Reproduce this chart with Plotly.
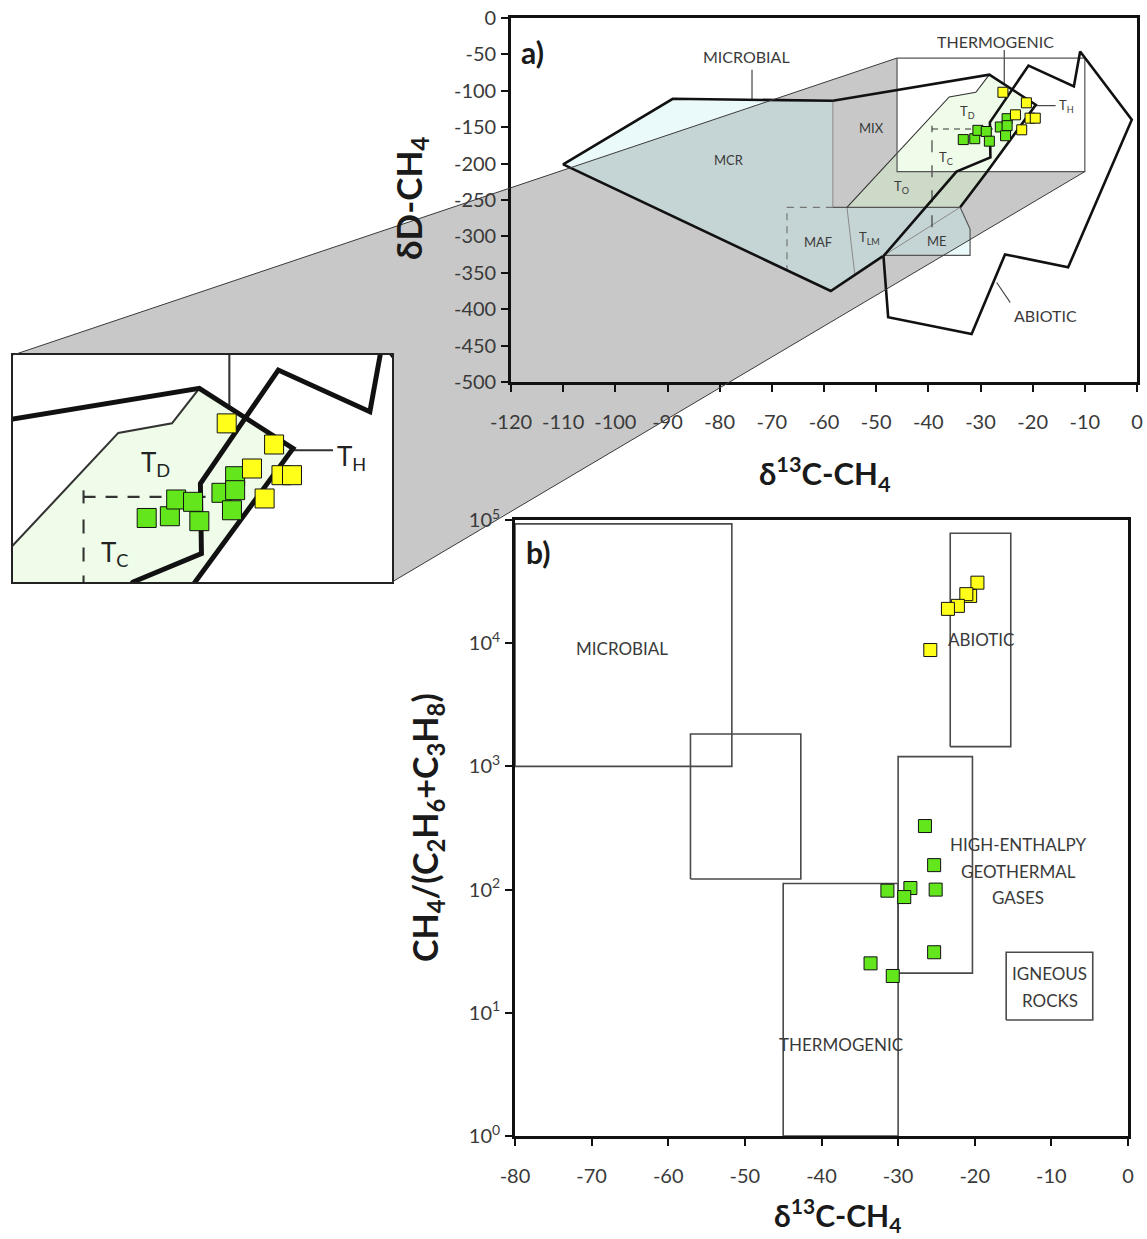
import math
import plotly.graph_objects as go

W, H = 1147, 1239

# ---------------- data ----------------
# Panel a samples: δ13C-CH4 vs δD-CH4
green_d13C_a = [-33.3, -31.1, -30.5, -28.9, -28.3, -26.2, -24.9, -24.9, -25.2]
green_dD_a = [-167.0, -165.8, -154.3, -155.9, -169.2, -149.7, -138.3, -147.9, -161.7]
yellow_d13C_a = [-25.7, -21.2, -23.3, -20.5, -19.5, -22.1]
yellow_dD_a = [-102.0, -116.5, -133.0, -137.6, -137.6, -153.6]

# Panel b samples: δ13C-CH4 vs CH4/(C2H6+C3H8)
green_d13C_b = [-26.5, -25.3, -25.1, -28.4, -29.2, -31.4, -25.3, -33.6, -30.7]
green_ratio_b = [328, 158, 100, 103, 87, 98, 31, 25.2, 19.9]
yellow_d13C_b = [-19.65, -20.6, -21.1, -22.2, -23.5, -25.8]
yellow_ratio_b = [31000, 24200, 25000, 20100, 19000, 8800]

# Panel a genetic fields (δ13C, δD vertices)
microbial_fill_x = [-110, -89, -58.3, -58.3, -33.9, -32, -32, -48.7, -58.7, -110]
microbial_fill_y = [-201, -111, -113.7, -260, -260, -290, -326, -326, -375, -201]
microbial_edge_x = [-58.3, -89, -110, -58.7, -48.7]
microbial_edge_y = [-113.7, -111, -201, -375, -327]
thermo_fill_x = [-55.6, -46, -36, -30.9, -28.3, -19.4, -28.7, -33.9, -55.6]
thermo_fill_y = [-260, -185.8, -108.5, -102, -77.9, -119.2, -211, -260, -260]
thermo_left_x = [-55.6, -46, -36, -30.9, -28.3]
thermo_left_y = [-260, -185.8, -108.5, -102, -77.9]
thermo_edge_x = [-58.3, -28.3, -19.4, -28.7, -33.9]
thermo_edge_y = [-113.7, -77.9, -119.2, -211, -260]
abiotic_x = [-48.6, -34.6, -28.1, -28.2, -20.8, -12.1, -10.9, -1.0, -13.2, -25.3, -31.7, -47.7, -48.6]
abiotic_y = [-327, -211, -191.5, -143.3, -65.3, -94, -46, -139.7, -342.5, -324.7, -434, -411, -327]
me_box_x = [-58.3, -33.9, -32, -32, -48.7]
me_box_y = [-260, -260, -290, -326, -326]
mix_line_x = [-58.3, -58.3]
mix_line_y = [-113.7, -260]
maf_div_x = [-55.6, -54.1]
maf_div_y = [-260, -352]
me_diag_x = [-48.7, -33.9]
me_diag_y = [-327, -260]
maf_dash_x = [-58.3, -67.1, -67.1]
maf_dash_y = [-260, -260, -346]
tc_hdash_x = [-39.3, -27.0]
tc_hdash_y = [-152.5, -152.5]
tc_tick_x = [-39.3, -39.3]
tc_tick_y = [-148, -157]
tc_vdash_x = [-39.3, -39.3]
tc_vdash_y = [-168, -290]
lead_microbial_x = [-73.8, -73.8]
lead_microbial_y = [-113.7, -71]
lead_thermo_x = [-25.45, -25.45]
lead_thermo_y = [-44, -91.5]
lead_th_x = [-19.4, -15.6]
lead_th_y = [-120.4, -120.4]
lead_abiotic_x = [-26.9, -24.3]
lead_abiotic_y = [-363.4, -390.8]
zoom_x = [-46, -10]
zoom_y = [-211, -55]

labels_a = [
    ("MICROBIAL", -74.8, -53.4, 16), ("THERMOGENIC", -27.2, -32.5, 16),
    ("MCR", -78.2, -194.5, 13), ("MIX", -50.9, -151, 13),
    ("T<sub>D</sub>", -32.4, -128.8, 13), ("T<sub>C</sub>", -36.6, -191.8, 13),
    ("T<sub>O</sub>", -45.1, -232, 13), ("MAF", -61.2, -308, 13),
    ("T<sub>LM</sub>", -51.2, -301.8, 13), ("ME", -38.4, -306.4, 13),
    ("T<sub>H</sub>", -13.6, -120.4, 13), ("ABIOTIC", -17.6, -409, 16),
]
labels_inset = [
    ("T<sub>D</sub>", -32.5, -129.6, 26), ("T<sub>C</sub>", -36.3, -191.5, 26),
    ("T<sub>H</sub>", -13.8, -125.4, 26),
]

# Panel b fields (δ13C range, ratio range)
box_microbial_x = [-80, -51.7]
box_microbial_y = [1000, 93000]
box_mixed_x = [-57.1, -42.7]
box_mixed_y = [122, 1833]
box_thermo_x = [-45.0, -30.0]
box_thermo_y = [1, 112]
box_geo_x = [-30.0, -20.3]
box_geo_y = [21, 1200]
box_abiotic_x = [-23.2, -15.3]
box_abiotic_y = [1446, 78000]
box_igneous_x = [-15.9, -4.6]
box_igneous_y = [8.75, 31]

labels_b = [
    ("MICROBIAL", -66.0, 9140), ("ABIOTIC", -19.2, 10770),
    ("HIGH-ENTHALPY", -14.3, 233), ("GEOTHERMAL", -14.3, 140), ("GASES", -14.3, 86),
    ("IGNEOUS", -10.2, 20.7), ("ROCKS", -10.2, 12.7), ("THERMOGENIC", -37.4, 5.48),
]

ticks_a_x = list(range(-120, 1, 10))
ticks_a_y = list(range(-500, 1, 50))
ticks_b_x = list(range(-80, 1, 10))
ticks_b_y = [1, 10, 100, 1000, 10000, 100000]
ticks_b_y_text = ["10<sup>0</sup>", "10<sup>1</sup>", "10<sup>2</sup>", "10<sup>3</sup>",
                  "10<sup>4</sup>", "10<sup>5</sup>"]

# ---------------- layout geometry ----------------
X_DOM_A = [511 / W, 1137 / W]
Y_DOM_A = [1 - 382 / H, 1 - 18 / H]
X_DOM_I = [13 / W, 392 / W]
Y_DOM_I = [1 - 582 / H, 1 - 355 / H]
X_DOM_B = [515 / W, 1128 / W]
Y_DOM_B = [1 - 1136 / H, 1 - 520 / H]
XR_A = [-120, 0]
YR_A = [-500, 0]

FONT = "Lato, 'Open Sans', sans-serif"
TXT = "#3a3a3a"
GREEN = "#63e61c"
YELLOW = "#ffff1a"

fig = go.Figure()
AX = {"a": ("x", "y"), "i": ("x2", "y2"), "b": ("x3", "y3")}
SCALE = {"a": 1.0, "i": 1.9}


def add_fill(xs, ys, color, panels=("a", "i")):
    for p in panels:
        xa, ya = AX[p]
        fig.add_trace(go.Scatter(x=xs, y=ys, xaxis=xa, yaxis=ya, mode="lines", fill="toself",
                                 fillcolor=color, line=dict(width=0), hoverinfo="skip",
                                 showlegend=False))


def add_line(xs, ys, width, color, dash=None, panels=("a", "i")):
    for p in panels:
        xa, ya = AX[p]
        d = None
        if dash is not None:
            d = dash[p] if isinstance(dash, dict) else dash
        fig.add_trace(go.Scatter(x=xs, y=ys, xaxis=xa, yaxis=ya, mode="lines",
                                 line=dict(color=color, width=width * SCALE.get(p, 1.0), dash=d),
                                 hoverinfo="skip", showlegend=False))


# fills
add_fill(microbial_fill_x, microbial_fill_y, "rgba(190,238,238,0.33)")
add_fill(thermo_fill_x, thermo_fill_y, "rgba(212,246,198,0.38)")

# thin lines
add_line(mix_line_x, mix_line_y, 1, "#8a8a8a")
add_line(maf_div_x, maf_div_y, 1, "#8a8a8a")
add_line(me_diag_x, me_diag_y, 1, "#8a8a8a")
add_line(me_box_x, me_box_y, 1.2, "#555555")
add_line(thermo_left_x, thermo_left_y, 1.1, "#333333")
add_line(maf_dash_x, maf_dash_y, 1.2, "#777777", dash={"a": "7px,6px", "i": "12px,10px"})
add_line(tc_hdash_x, tc_hdash_y, 1.1, "#333333", dash={"a": "6px,5px", "i": "12px,10px"})
add_line(tc_tick_x, tc_tick_y, 1.1, "#333333")
add_line(tc_vdash_x, tc_vdash_y, 1.1, "#333333", dash={"a": "12px,13px", "i": "14px,14px"})
add_line(lead_microbial_x, lead_microbial_y, 1.1, "#333333")
add_line(lead_thermo_x, lead_thermo_y, 1.1, "#333333")
add_line(lead_th_x, lead_th_y, 1.1, "#333333")
add_line(lead_abiotic_x, lead_abiotic_y, 1.1, "#333333")
# zoom window outline in panel a
add_line([zoom_x[0], zoom_x[1], zoom_x[1], zoom_x[0], zoom_x[0]],
         [zoom_y[1], zoom_y[1], zoom_y[0], zoom_y[0], zoom_y[1]], 1.2, "#555555", panels=("a",))

# thick outlines
add_line(microbial_edge_x, microbial_edge_y, 2.6, "#111111")
add_line(thermo_edge_x, thermo_edge_y, 2.6, "#111111")
add_line(abiotic_x, abiotic_y, 2.6, "#111111")

# samples panel a + inset
for p, size in (("a", 10), ("i", 19)):
    xa, ya = AX[p]
    fig.add_trace(go.Scatter(x=green_d13C_a, y=green_dD_a, xaxis=xa, yaxis=ya, mode="markers",
                             marker=dict(symbol="square", size=size, color=GREEN,
                                         line=dict(color="#111111", width=1)),
                             showlegend=False, hoverinfo="skip"))
    fig.add_trace(go.Scatter(x=yellow_d13C_a, y=yellow_dD_a, xaxis=xa, yaxis=ya, mode="markers",
                             marker=dict(symbol="square", size=size, color=YELLOW,
                                         line=dict(color="#111111", width=1)),
                             showlegend=False, hoverinfo="skip"))

# panel b boxes
for bx, by in ((box_microbial_x, box_microbial_y), (box_mixed_x, box_mixed_y),
               (box_thermo_x, box_thermo_y), (box_geo_x, box_geo_y),
               (box_abiotic_x, box_abiotic_y), (box_igneous_x, box_igneous_y)):
    fig.add_trace(go.Scatter(x=[bx[0], bx[1], bx[1], bx[0], bx[0]],
                             y=[by[0], by[0], by[1], by[1], by[0]],
                             xaxis="x3", yaxis="y3", mode="lines",
                             line=dict(color="#4a4a4a", width=1.6),
                             showlegend=False, hoverinfo="skip"))

fig.add_trace(go.Scatter(x=green_d13C_b, y=green_ratio_b, xaxis="x3", yaxis="y3", mode="markers",
                         marker=dict(symbol="square", size=13, color=GREEN,
                                     line=dict(color="#111111", width=1)),
                         showlegend=False, hoverinfo="skip"))
fig.add_trace(go.Scatter(x=yellow_d13C_b, y=yellow_ratio_b, xaxis="x3", yaxis="y3", mode="markers",
                         marker=dict(symbol="square", size=13, color=YELLOW,
                                     line=dict(color="#111111", width=1)),
                         showlegend=False, hoverinfo="skip"))


# ---------------- projection (zoom connector) ----------------
def a2paper(x, y):
    xp = X_DOM_A[0] + (x - XR_A[0]) / (XR_A[1] - XR_A[0]) * (X_DOM_A[1] - X_DOM_A[0])
    yp = Y_DOM_A[0] + (y - YR_A[0]) / (YR_A[1] - YR_A[0]) * (Y_DOM_A[1] - Y_DOM_A[0])
    return xp, yp


bTL = a2paper(zoom_x[0], zoom_y[1])
bBL = a2paper(zoom_x[0], zoom_y[0])
bBR = a2paper(zoom_x[1], zoom_y[0])
iTL = (X_DOM_I[0], Y_DOM_I[1])
iTR = (X_DOM_I[1], Y_DOM_I[1])
iBR = (X_DOM_I[1], Y_DOM_I[0])
pts = [iTL, bTL, bBL, bBR, iBR, iTR]
path = "M " + " L ".join(f"{p[0]:.5f},{p[1]:.5f}" for p in pts) + " Z"
shapes = [
    dict(type="path", path=path, xref="paper", yref="paper", layer="below",
         fillcolor="rgb(200,200,200)", line=dict(width=0)),
    dict(type="line", xref="paper", yref="paper", x0=iTL[0], y0=iTL[1], x1=bTL[0], y1=bTL[1],
         line=dict(color="#3a3a3a", width=1), layer="above"),
    dict(type="line", xref="paper", yref="paper", x0=bBR[0], y0=bBR[1], x1=iBR[0], y1=iBR[1],
         line=dict(color="#3a3a3a", width=1), layer="above"),
]

# ---------------- annotations ----------------
ann = []
for t, x, y, s in labels_a:
    ann.append(dict(text=t, x=x, y=y, xref="x", yref="y", showarrow=False,
                    xanchor="center", yanchor="middle",
                    font=dict(family=FONT, size=s, color=TXT)))
for t, x, y, s in labels_inset:
    ann.append(dict(text=t, x=x, y=y, xref="x2", yref="y2", showarrow=False,
                    xanchor="center", yanchor="middle",
                    font=dict(family=FONT, size=s, color="#222222")))
for t, x, y in labels_b:
    ann.append(dict(text=t, x=x, y=math.log10(y), xref="x3", yref="y3",
                    xanchor="center", yanchor="middle",
                    showarrow=False, font=dict(family=FONT, size=17, color=TXT)))


def paper_text(text, px, py, size, angle=0, color="#1a1a1a"):
    return dict(text=text, x=px / W, y=1 - py / H, xref="paper", yref="paper",
                showarrow=False, xanchor="center", yanchor="middle", textangle=angle,
                font=dict(family=FONT, size=size, color=color))


ann += [
    paper_text("<b>a)</b>", 532, 52, 30),
    paper_text("<b>b)</b>", 538, 552, 30),
    paper_text("<b>δ<sup>13</sup>C-CH<sub>4</sub></b>", 825, 474, 31),
    paper_text("<b>δD-CH<sub>4</sub></b>", 410, 198, 35, angle=-90),
    paper_text("<b>δ<sup>13</sup>C-CH<sub>4</sub></b>", 837, 1215, 30),
    paper_text("<b>CH<sub>4</sub>/(C<sub>2</sub>H<sub>6</sub>+C<sub>3</sub>H<sub>8</sub>)</b>",
               427, 828, 34, angle=-90),
]

axis_common = dict(showline=True, mirror=True, linecolor="#111111", linewidth=2.6,
                   showgrid=False, zeroline=False, ticks="outside", ticklen=7, tickwidth=2,
                   tickcolor="#111111", automargin=False,
                   tickfont=dict(family=FONT, size=20, color=TXT))
inset_axis = dict(showline=True, mirror=True, linecolor="#222222", linewidth=2.2,
                  showgrid=False, zeroline=False, showticklabels=False, ticks="",
                  automargin=False)

fig.update_layout(
    template="none",
    width=W, height=H, autosize=False,
    margin=dict(l=0, r=0, t=0, b=0, pad=0),
    paper_bgcolor="white", plot_bgcolor="rgba(0,0,0,0)",
    showlegend=False,
    xaxis=dict(domain=X_DOM_A, range=XR_A, anchor="y", tickvals=ticks_a_x,
               ticktext=[str(v) for v in ticks_a_x], ticklabelstandoff=13, **axis_common),
    yaxis=dict(domain=Y_DOM_A, range=YR_A, anchor="x", tickvals=ticks_a_y,
               ticktext=[str(v) for v in ticks_a_y], ticklabelstandoff=1, **axis_common),
    xaxis2=dict(domain=X_DOM_I, range=zoom_x, anchor="y2", **inset_axis),
    yaxis2=dict(domain=Y_DOM_I, range=zoom_y, anchor="x2", **inset_axis),
    xaxis3=dict(domain=X_DOM_B, range=[-80, 0], anchor="y3", tickvals=ticks_b_x,
                ticktext=[str(v) for v in ticks_b_x], ticklabelstandoff=13, **axis_common),
    yaxis3=dict(domain=Y_DOM_B, type="log", range=[0, 5], anchor="x3", tickvals=ticks_b_y,
                ticktext=ticks_b_y_text, ticklabelstandoff=1, **axis_common),
    shapes=shapes,
    annotations=ann,
)

fig.write_html("out.html")
